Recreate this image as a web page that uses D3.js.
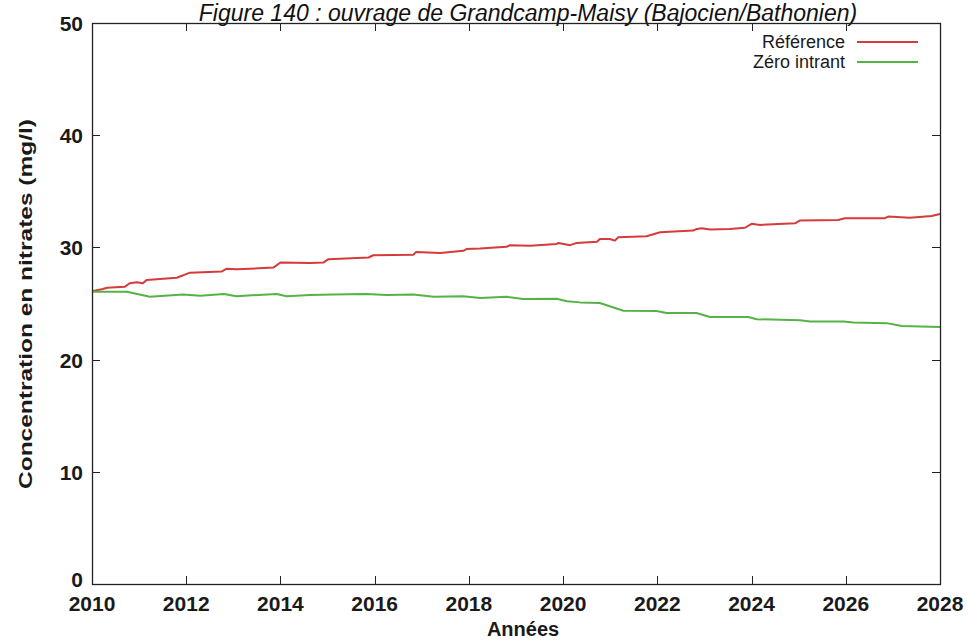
<!DOCTYPE html>
<html><head><meta charset="utf-8">
<script src="https://cdn.jsdelivr.net/npm/d3@7"></script>
<style>body{margin:0;background:#fff}svg{display:block}text{font-family:"Liberation Sans",Arial,sans-serif}</style>
</head><body>
<svg id="c" width="973" height="641"></svg>
<script>
const title = "Figure 140 : ouvrage de Grandcamp-Maisy (Bajocien/Bathonien)";
const xTicks = [2010,2012,2014,2016,2018,2020,2022,2024,2026,2028];
const yTicks = [0,10,20,30,40,50];
const seriesNames = ["Référence","Zéro intrant"];
const seriesColors = ["#d63a3a","#55b346"];
const refYears = [2010,2010.23,2010.32,2010.7,2010.8,2010.95,2011.08,2011.16,2011.8,2012.08,2012.75,2012.86,2013.07,2013.85,2014.0,2014.63,2014.91,2015.02,2015.87,2015.97,2016.82,2016.88,2017.39,2017.88,2017.95,2018.24,2018.8,2018.87,2019.3,2019.86,2019.9,2020.15,2020.29,2020.72,2020.78,2020.99,2021.1,2021.17,2021.77,2022.06,2022.76,2022.84,2022.94,2023.12,2023.54,2023.86,2024.0,2024.18,2024.92,2025.03,2025.84,2025.98,2026.16,2026.83,2026.9,2027.36,2027.82,2028];
const refValues = [26.1,26.3,26.4,26.5,26.8,26.9,26.8,27.1,27.3,27.75,27.85,28.1,28.05,28.2,28.65,28.6,28.65,28.95,29.1,29.3,29.35,29.6,29.5,29.7,29.85,29.9,30.05,30.2,30.15,30.3,30.4,30.2,30.4,30.5,30.75,30.75,30.6,30.9,31.0,31.35,31.5,31.65,31.7,31.6,31.65,31.75,32.1,32.0,32.15,32.4,32.45,32.6,32.6,32.6,32.75,32.65,32.8,32.98];
const zeroYears = [2010,2010.74,2011.23,2011.93,2012.3,2012.8,2013.07,2013.92,2014.13,2014.63,2015.12,2015.83,2016.26,2016.82,2017.25,2017.88,2018.24,2018.8,2019.15,2019.86,2020.08,2020.36,2020.78,2021.28,2021.98,2022.2,2022.83,2023.12,2023.93,2024.11,2025.03,2025.24,2025.95,2026.16,2026.87,2027.19,2028];
const zeroValues = [26.05,26.05,25.6,25.8,25.7,25.85,25.65,25.85,25.65,25.75,25.8,25.85,25.75,25.8,25.6,25.65,25.5,25.6,25.4,25.43,25.2,25.1,25.05,24.35,24.33,24.15,24.15,23.8,23.8,23.6,23.5,23.4,23.4,23.3,23.25,23.0,22.9];

const svg = d3.select("#c");
const L=92, R=940, T=23, B=584;
const x = d3.scaleLinear().domain([2010,2028]).range([L,R]);
const y = d3.scaleLinear().domain([0,50]).range([B,T]);

svg.append("text").attr("x",528).attr("y",21).attr("text-anchor","middle")
  .attr("font-size",23).attr("font-style","italic").attr("fill","#111").text(title);

// ticks
const tl=8;
const g = svg.append("g").attr("stroke","#222").attr("stroke-width",1);
xTicks.forEach(t=>{
  const px=Math.round(x(t))+0.5;
  g.append("line").attr("x1",px).attr("x2",px).attr("y1",B).attr("y2",B-tl);
  g.append("line").attr("x1",px).attr("x2",px).attr("y1",T).attr("y2",T+tl);
});
yTicks.forEach(t=>{
  const py=Math.round(y(t))+0.5;
  g.append("line").attr("x1",L).attr("x2",L+tl).attr("y1",py).attr("y2",py);
  g.append("line").attr("x1",R).attr("x2",R-tl).attr("y1",py).attr("y2",py);
});
xTicks.forEach(t=>{
  svg.append("text").attr("x",x(t)).attr("y",611).attr("text-anchor","middle")
    .attr("font-size",21).attr("font-weight","bold").attr("fill","#1a1a1a").text(t);
});
yTicks.forEach(t=>{
  svg.append("text").attr("x",83).attr("y",y(t)+ (t===0?3:8)).attr("text-anchor","end")
    .attr("font-size",21).attr("font-weight","bold").attr("fill","#1a1a1a").text(t);
});
svg.append("text").attr("x",523).attr("y",636).attr("text-anchor","middle")
  .attr("font-size",20).attr("font-weight","bold").attr("fill","#1a1a1a").text("Années");
svg.append("text").attr("transform","translate(32,304) rotate(-90)").attr("text-anchor","middle")
  .attr("font-size",19).attr("font-weight","bold").attr("fill","#1a1a1a")
  .attr("textLength",370).attr("lengthAdjust","spacingAndGlyphs")
  .text("Concentration en nitrates (mg/l)");

const line = d3.line().x(d=>x(d[0])).y(d=>y(d[1]));
const data = [d3.zip(refYears,refValues), d3.zip(zeroYears,zeroValues)];
data.forEach((d,i)=>{
  svg.append("path").datum(d).attr("d",line).attr("fill","none")
    .attr("stroke",seriesColors[i]).attr("stroke-width",2).attr("stroke-linejoin","round");
});

svg.append("rect").attr("x",L+0.5).attr("y",T+0.5).attr("width",R-L).attr("height",B-T)
  .attr("fill","none").attr("stroke","#222").attr("stroke-width",1.3);

// legend
seriesNames.forEach((n,i)=>{
  const ly = 42 + i*20;
  svg.append("text").attr("x",845).attr("y",ly+6).attr("text-anchor","end")
    .attr("font-size",18).attr("fill","#1a1a1a").text(n);
  svg.append("line").attr("x1",857).attr("x2",918).attr("y1",ly).attr("y2",ly)
    .attr("stroke",seriesColors[i]).attr("stroke-width",2);
});
</script>
</body></html>
